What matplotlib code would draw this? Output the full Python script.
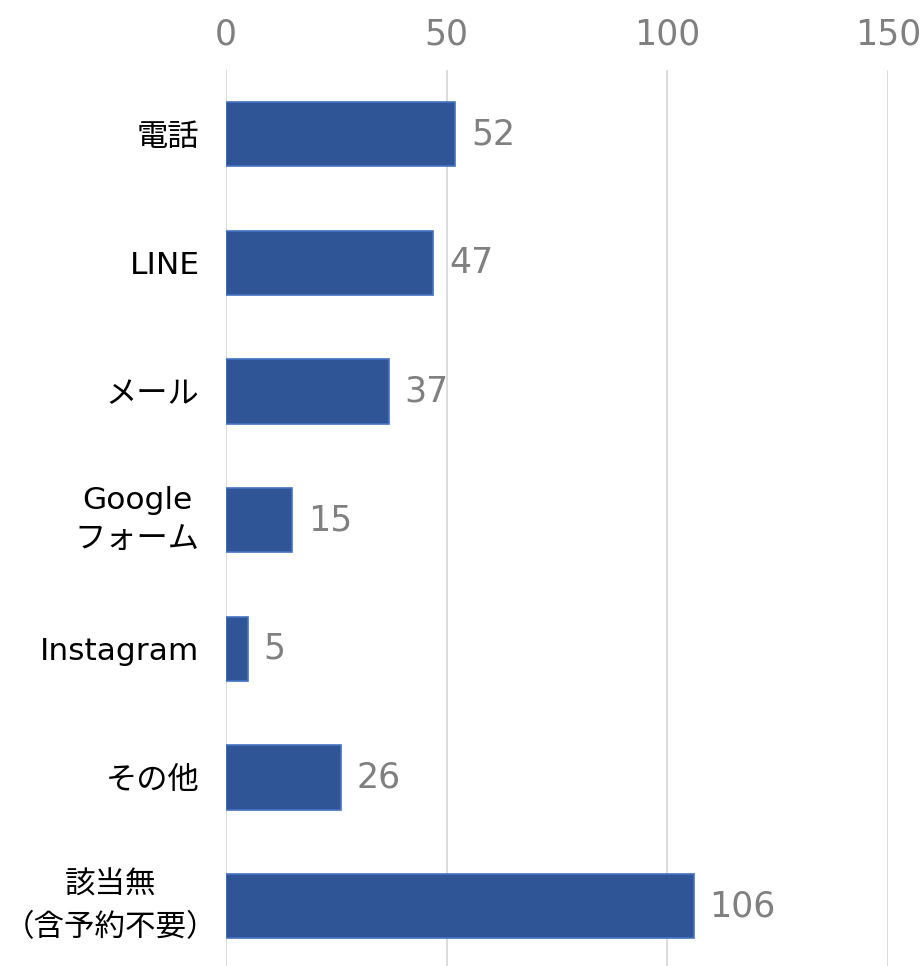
import matplotlib
matplotlib.use("Agg")
import matplotlib.pyplot as plt

plt.rcParams['font.family'] = ['DejaVu Sans', 'Noto Sans CJK JP']

categories = ["電話", "LINE", "メール", "Google\nフォーム", "Instagram", "その他", "該当無\n（含予約不要）"]
values = [52, 47, 37, 15, 5, 26, 106]
xticks = [0, 50, 100, 150]

fig = plt.figure(figsize=(9.24, 9.66), dpi=100)
ax = fig.add_axes([226/924, -4.5/966, (888-226)/924, (966-70+4.5)/966])

y = list(range(len(categories)))
ax.barh(y, values, height=0.5, color="#2F5597", edgecolor="#4472C4", linewidth=1.2, zorder=3)
ax.set_ylim(len(categories) - 0.5, -0.5)
ax.set_xlim(0, 150)
ax.set_xticks(xticks)
ax.xaxis.tick_top()
ax.tick_params(axis='x', length=0, labelsize=25, labelcolor="#808080", pad=13)
ax.set_yticks(y)
ax.set_yticklabels(categories, fontsize=22.5, linespacing=1.5)
ax.tick_params(axis='y', length=0, pad=19)
for lbl in ax.get_yticklabels():
    lbl.set_horizontalalignment('right')
    lbl.set_multialignment('center')
    if "\n" in lbl.get_text():
        lbl.set_verticalalignment('center')
last = ax.get_yticklabels()[-1]
last.set_fontfamily(['Noto Sans CJK JP', 'DejaVu Sans'])
last.set_fontsize(22)
last.set_linespacing(1.5)
ax.yaxis.get_major_ticks()[-1].set_pad(6.5)
ax.grid(axis='x', color="#D9D9D9", linewidth=1.3, zorder=0)
for s in ax.spines.values():
    s.set_visible(False)
for yi, v in zip(y, values):
    ax.text(v + 3.5, yi, str(v), va='center', ha='left', fontsize=25, color="#808080")

fig.savefig("out.png", dpi=100)
